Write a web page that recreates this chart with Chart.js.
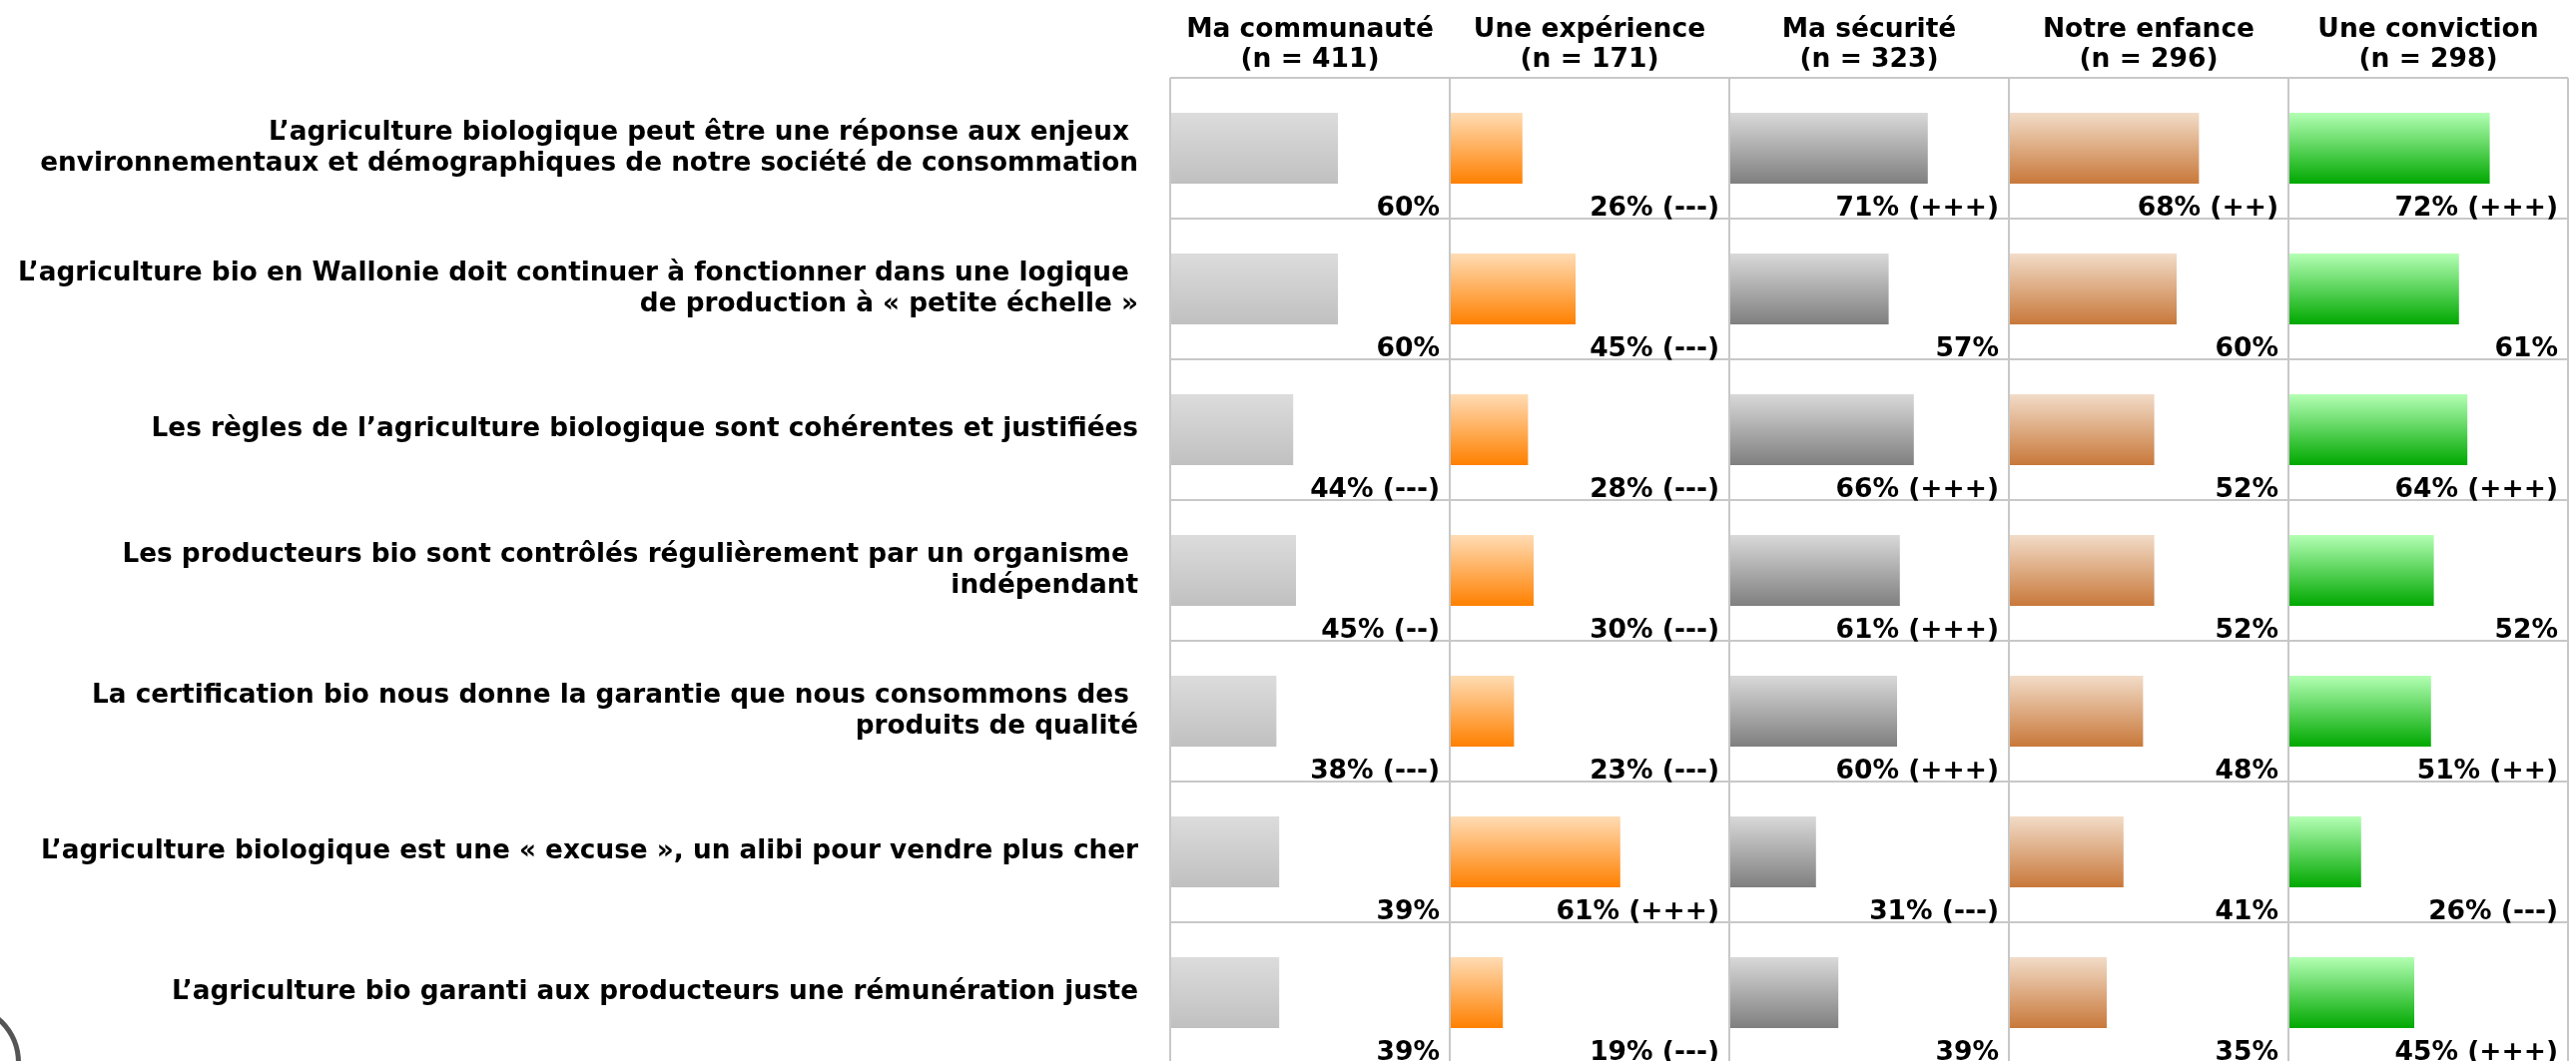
<!DOCTYPE html>
<html>
<head>
<meta charset="utf-8">
<title>Agriculture biologique</title>
<script src="https://cdn.jsdelivr.net/npm/chart.js@4.4.1/dist/chart.umd.min.js"></script>
<style>
  html, body { margin: 0; padding: 0; background: #fff; overflow: hidden; }
  #wrap { position: relative; width: 2580px; height: 1065px; }
  #badge { position: absolute; left: -101px; top: 1004px; width: 112px; height: 112px; border: 5px solid #555; border-radius: 50%; }
</style>
</head>
<body>
<div id="wrap">
  <canvas id="chart"></canvas>
  <div id="badge"></div>
</div>
<script>
// Affirmations (lignes)
const statements = [
    ['L’agriculture biologique peut être une réponse aux enjeux ', 'environnementaux et démographiques de notre société de consommation'],
    ['L’agriculture bio en Wallonie doit continuer à fonctionner dans une logique ', 'de production à « petite échelle »'],
    'Les règles de l’agriculture biologique sont cohérentes et justifiées',
    ['Les producteurs bio sont contrôlés régulièrement par un organisme ', 'indépendant'],
    ['La certification bio nous donne la garantie que nous consommons des ', 'produits de qualité'],
    'L’agriculture biologique est une « excuse », un alibi pour vendre plus cher',
    'L’agriculture bio garanti aux producteurs une rémunération juste'
];

// Groupes (colonnes)
const groups = ['Ma communauté', 'Une expérience', 'Ma sécurité', 'Notre enfance', 'Une conviction'];
const groupN = [411, 171, 323, 296, 298];

// Pourcentages par groupe
const communaute = [60, 60, 44, 45, 38, 39, 39];
const experience = [26, 45, 28, 30, 23, 61, 19];
const securite = [71, 57, 66, 61, 60, 31, 39];
const enfance = [68, 60, 52, 52, 48, 41, 35];
const conviction = [72, 61, 64, 52, 51, 26, 45];

// Significativité
const sigCommunaute = ['', '', '---', '--', '---', '', ''];
const sigExperience = ['---', '---', '---', '---', '---', '+++', '---'];
const sigSecurite = ['+++', '', '+++', '+++', '+++', '---', ''];
const sigEnfance = ['++', '', '', '', '', '', ''];
const sigConviction = ['+++', '', '+++', '', '++', '---', '+++'];

const values = [communaute, experience, securite, enfance, conviction];
const significance = [sigCommunaute, sigExperience, sigSecurite, sigEnfance, sigConviction];

// Dégradés (haut, bas)
const barColors = [
    ['#dcdcdc', '#c0c0c0'],
    ['#ffdcb4', '#ff8000'],
    ['#d9d9d9', '#7f7f7f'],
    ['#f2dcc8', '#c8783a'],
    ['#b4ffb4', '#00a800']
];

const BAR_PART = 0.505;
const FONT_SIZE = 26.5;

Chart.defaults.font.family = '"DejaVu Sans", Verdana, sans-serif';

function barGradient(k) {
    return function (ctx) {
        const chart = ctx.chart;
        const y = chart.scales.y;
        if (!y || ctx.type !== 'data') return barColors[k][1];
        const row = y.height / statements.length;
        const mid = y.getPixelForValue(ctx.dataIndex);
        const h = row * BAR_PART;
        if (!Number.isFinite(mid) || !Number.isFinite(h) || h <= 0) return barColors[k][1];
        const g = chart.ctx.createLinearGradient(0, mid - h / 2, 0, mid + h / 2);
        g.addColorStop(0, barColors[k][0]);
        g.addColorStop(1, barColors[k][1]);
        return g;
    };
}

// Etiquettes de pourcentage en bas à droite de chaque cellule
const valueLabels = {
    id: 'valueLabels',
    afterDatasetsDraw(chart) {
        const ctx = chart.ctx;
        const y = chart.scales.y;
        const row = y.height / statements.length;
        ctx.save();
        ctx.font = 'bold ' + FONT_SIZE + 'px "DejaVu Sans"';
        ctx.fillStyle = '#000';
        ctx.textAlign = 'right';
        ctx.textBaseline = 'alphabetic';
        chart.data.datasets.forEach((ds, k) => {
            const x = chart.scales['x' + k];
            ds.data.forEach((v, i) => {
                const sig = significance[k][i];
                const txt = v + '%' + (sig ? ' (' + sig + ')' : '');
                ctx.fillText(txt, x.right - 10, y.getPixelForValue(i) + row / 2 - 3);
            });
        });
        ctx.restore();
    }
};

const scales = {
    y: {
        type: 'category',
        offset: true,
        grid: { offset: true, color: '#c8c8c8', lineWidth: 2, drawTicks: false },
        border: { display: false },
        ticks: {
            color: '#000',
            padding: 32,
            autoSkip: false,
            font: { size: 26.3, weight: 'bold', lineHeight: 1.2 }
        },
        afterFit: s => {
            s.width = 1172;
            s.paddingTop = 0;
            s.paddingBottom = 0;
        }
    }
};

groups.forEach((g, k) => {
    scales['x' + k] = {
        type: 'linear',
        position: 'top',
        stack: 'panels',
        stackWeight: 1,
        weight: groups.length - k,
        min: 0,
        max: 100,
        grid: { color: '#c8c8c8', lineWidth: 2, drawTicks: false },
        border: { display: false },
        ticks: { display: false },
        afterBuildTicks: s => {
            s.ticks = k === groups.length - 1 ? [{ value: 0 }, { value: 100 }] : [{ value: 0 }];
        },
        title: {
            display: true,
            text: [g, '(n = ' + groupN[k] + ')'],
            color: '#000',
            font: { size: FONT_SIZE, weight: 'bold', lineHeight: 1.14 },
            padding: { top: 15, bottom: 2 }
        },
        afterFit: s => { s.height = 78; }
    };
});

const datasets = values.map((data, k) => ({
    label: groups[k],
    data: data,
    xAxisID: 'x' + k,
    yAxisID: 'y',
    grouped: false,
    barPercentage: 1,
    categoryPercentage: BAR_PART,
    borderWidth: 0,
    backgroundColor: barGradient(k)
}));

new Chart(document.getElementById('chart'), {
    type: 'bar',
    data: { labels: statements, datasets: datasets },
    options: {
        indexAxis: 'y',
        responsive: true,
        maintainAspectRatio: false,
        animation: false,
        layout: { padding: { top: 0, right: 8, bottom: 0, left: 0 } },
        plugins: {
            legend: { display: false },
            tooltip: { enabled: false }
        },
        scales: scales
    },
    plugins: [valueLabels]
});
</script>
</body>
</html>
